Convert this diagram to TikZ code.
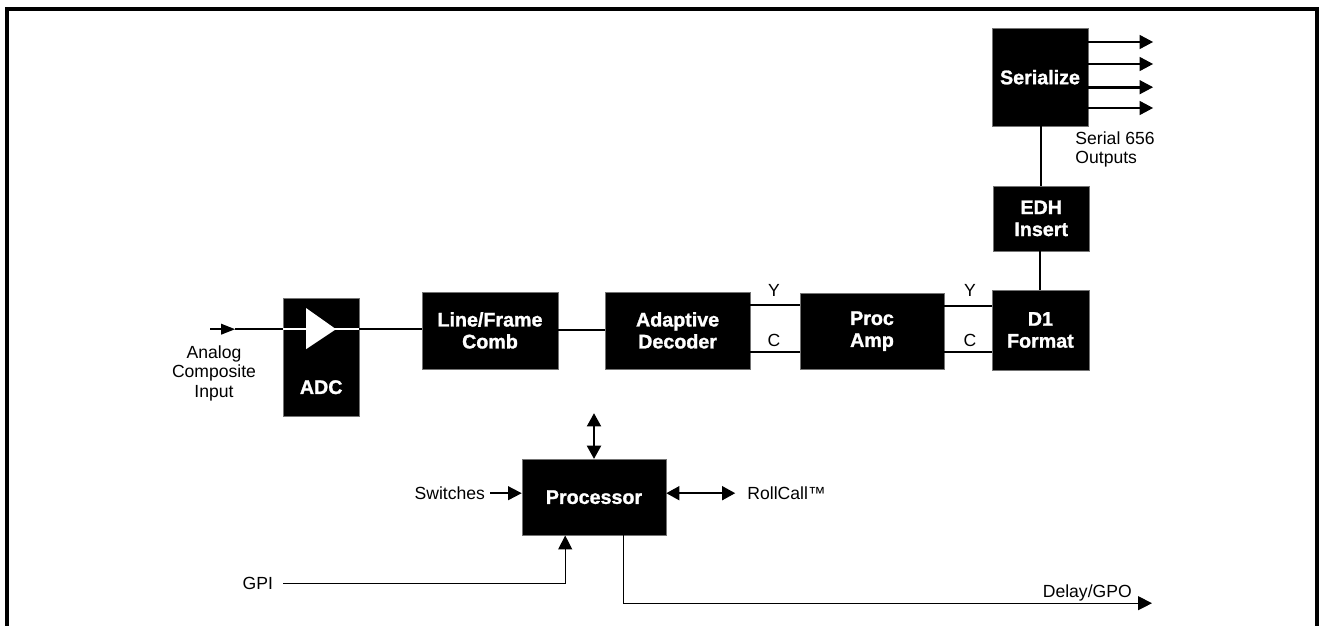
\documentclass[tikz,border=0pt]{standalone}
\usepackage{fontspec}
\setmainfont{Liberation Sans}
\newfontfamily\blkfont{Liberation Sans}[BoldFeatures={FakeBold=1.3}]
\usepackage{tikz}
\usetikzlibrary{arrows.meta,positioning}
\tikzset{
  bdblock/.style={fill=black, draw=black!55, line width=0.4pt, text=white, align=center,
    inner sep=2pt, font=\fontsize{14}{15.6}\selectfont\blkfont\bfseries},
  bdtext/.style={text=white, align=center, inner sep=0pt,
    font=\fontsize{14}{15.6}\selectfont\blkfont\bfseries},
  bdlabel/.style={inner sep=0pt, align=center, font=\fontsize{12.5}{13.9}\selectfont},
  bdline/.style={line width=1.4pt},
  bdarrow/.style={-{Triangle[length=0.34cm,width=0.34cm]}, line width=1.4pt},
  bdboth/.style={{Triangle[length=0.33cm,width=0.35cm]}-{Triangle[length=0.33cm,width=0.35cm]}, line width=1.4pt},
  bdthin/.style={-{Triangle[length=0.35cm,width=0.35cm]}, line width=0.9pt}
}

\begin{document}
\begin{tikzpicture}
  \useasboundingbox (0,0) rectangle (33.10cm,-15.65cm);
  % frame
  \draw[line width=2.8pt, line join=miter] (0.18cm,-15.70cm) -- (0.18cm,-0.23cm) -- (32.93cm,-0.23cm) -- (32.93cm,-15.70cm);

  % blocks
  \node[bdblock, minimum width=1.90cm, minimum height=2.95cm] (adc) at (8.03cm,-8.93cm) {};
  \node[bdtext] (adctext) at (8.03cm,-9.68cm) {ADC};
  \node[bdblock, minimum width=3.40cm, minimum height=1.93cm] (comb) at (12.25cm,-8.26cm) {Line/Frame\\Comb};
  \node[bdblock, minimum width=3.63cm, minimum height=1.93cm] (dec) at (16.94cm,-8.26cm) {Adaptive\\Decoder};
  \node[bdblock, minimum width=3.60cm, minimum height=1.90cm] (pamp) at (21.80cm,-8.28cm) {Proc\\Amp};
  \node[bdblock, minimum width=2.43cm, minimum height=2.00cm] (dfmt) at (26.01cm,-8.25cm) {D1\\Format};
  \node[bdblock, minimum width=2.40cm, minimum height=1.63cm] (edh) at (26.03cm,-5.46cm) {EDH\\Insert};
  \node[bdblock, minimum width=2.40cm, minimum height=2.45cm] (ser) at (26.00cm,-1.93cm) {Serialize};
  \node[bdblock, minimum width=3.60cm, minimum height=1.90cm] (proc) at (14.85cm,-12.43cm) {Processor};

  % labels
  \node[bdlabel, anchor=north] (ain) at (5.35cm,-8.63cm) {Analog\\Composite\\Input};
  \node[bdlabel, align=left, anchor=north west] (serout) at (26.88cm,-3.28cm) {Serial 656\\Outputs};
  \node[bdlabel] (yone) at (19.35cm,-7.25cm) {Y};
  \node[bdlabel] (cone) at (19.35cm,-8.50cm) {C};
  \node[bdlabel] (ytwo) at (24.25cm,-7.25cm) {Y};
  \node[bdlabel] (ctwo) at (24.25cm,-8.50cm) {C};
  \node[bdlabel, anchor=east] (sw) at (12.13cm,-12.33cm) {Switches};
  \node[bdlabel, anchor=west] (rc) at (18.68cm,-12.33cm) {RollCall™};
  \node[bdlabel, anchor=east] (gpi) at (6.83cm,-14.58cm) {GPI};
  \node[bdlabel, anchor=base east] (dly) at (28.30cm,-14.93cm) {Delay/GPO};

  % input and ADC
  \coordinate (ainstart) at (5.25cm,-8.23cm);
  \coordinate (aintip) at (5.88cm,-8.23cm);
  \draw[-{Triangle[length=0.35cm,width=0.26cm]}, line width=1.4pt] (ainstart) -- (aintip);
  \draw[bdline] (aintip) -- (aintip -| adc.west);
  \draw[bdline, white] (aintip -| adc.west) -- (aintip -| adc.east);
  \fill[white] (7.65cm,-7.70cm) -- (7.65cm,-8.73cm) -- (8.40cm,-8.23cm) -- cycle;
  \draw[bdline] (aintip -| adc.east) -- (aintip -| comb.west);

  % video path
  \draw[bdline] (comb) -- (dec);
  \draw[bdline] ([yshift=0.63cm]dec.east) -- ([yshift=0.63cm]dec.east -| pamp.west);
  \draw[bdline] ([yshift=-0.54cm]dec.east) -- ([yshift=-0.54cm]dec.east -| pamp.west);
  \draw[bdline] ([yshift=0.63cm]pamp.east) -- ([yshift=0.63cm]pamp.east -| dfmt.west);
  \draw[bdline] ([yshift=-0.52cm]pamp.east) -- ([yshift=-0.52cm]pamp.east -| dfmt.west);
  \draw[bdline] (dfmt.north) -- (dfmt.north |- edh.south);
  \draw[bdline] (edh.north) -- (edh.north |- ser.south);

  % serial outputs
  \foreach \yy [count=\i] in {-1.05,-1.60,-2.18,-2.70}{
    \coordinate (out\i) at (28.83cm,\yy cm);
    \draw[bdarrow, line width=1.9pt] (ser.east |- out\i) -- (out\i);
  }

  % processor
  \coordinate (ptop) at (14.85cm,-10.33cm);
  \draw[bdboth] (ptop) -- (proc.north);
  \draw[bdarrow, shorten <=0.12cm] (sw.east) -- (sw.east -| proc.west);
  \draw[bdboth, shorten >=0.30cm] (proc.east |- rc.west) -- (rc.west);
  \coordinate (gpibend) at (14.13cm,-14.58cm);
  \draw[bdthin, shorten <=0.25cm] (gpi.east) -- (gpibend) -- (gpibend |- proc.south);
  \coordinate (dlybend) at (15.58cm,-15.08cm);
  \coordinate (dlyend) at (28.80cm,-15.08cm);
  \draw[bdthin] (dlybend |- proc.south) -- (dlybend) -- (dlyend);
\end{tikzpicture}
\end{document}
